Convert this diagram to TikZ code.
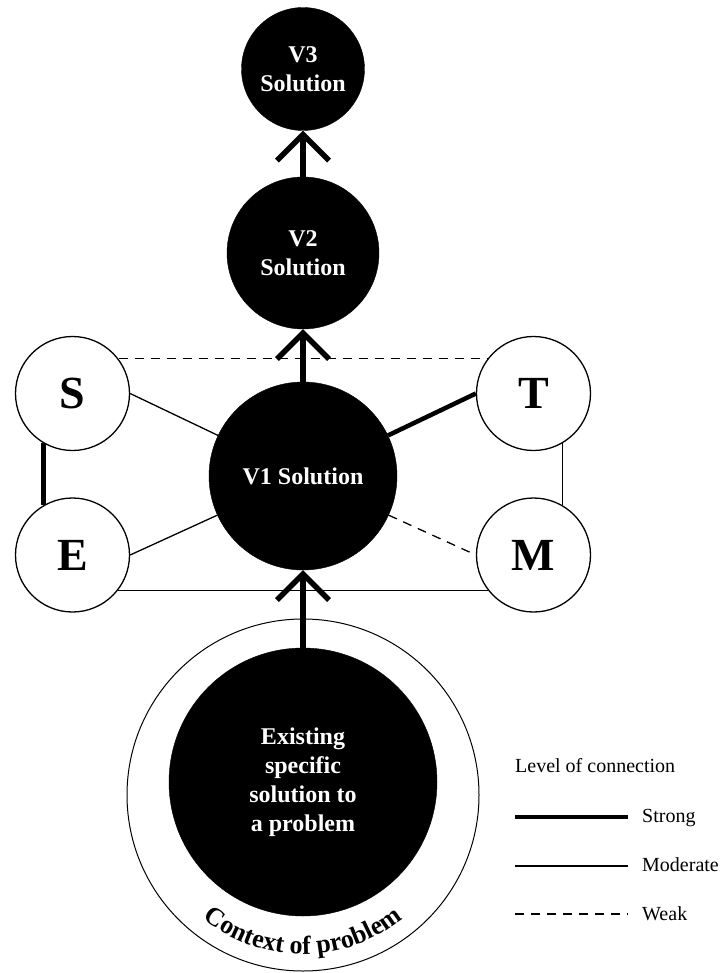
\documentclass[tikz,border=0pt]{standalone}
\usepackage{fontspec}
\setmainfont{Liberation Serif}
\usetikzlibrary{arrows.meta,decorations.text}

\begin{document}
\begin{tikzpicture}[x=1pt,y=1pt,
        solid node/.style={circle,fill=black,draw=black,text=white,inner sep=0pt,align=center,font=\fontsize{24}{29}\selectfont\bfseries},
        area node/.style={circle,draw=black,line width=1.3pt,fill=white,inner sep=0pt,minimum size=114pt,font=\fontsize{46}{46}\selectfont\bfseries},
        legend text/.style={anchor=base west,inner sep=0pt,font=\fontsize{20}{24}\selectfont},
        strong/.style={line width=4.5pt},
        moderate/.style={line width=1.3pt},
        weak/.style={line width=1.3pt,dash pattern=on 9pt off 7pt},
        step arrow/.style={line width=5.5pt,-{Straight Barb[length=26pt,width=52pt]}}]
                    \useasboundingbox (0,0) rectangle (722,-973);
                    \node[solid node,minimum size=123pt] (v3) at (303,-69) {V3\\Solution};
                    \node[solid node,minimum size=152pt] (v2) at (303,-253) {V2\\Solution};
                    \node[solid node,minimum size=188pt] (v1) at (303,-476) {V1 Solution};
                    \node[area node] (s) at (72.5,-393.5) {S};
                    \node[area node] (t) at (533.5,-393.5) {T};
                    \node[area node] (e) at (72.5,-555) {E};
                    \node[area node] (m) at (533.5,-555) {M};
                    \node[circle,draw=black,line width=1pt,inner sep=0pt,minimum size=352pt] (ctx) at (303,-795) {};
                    \node[solid node,minimum size=268pt] (prob) at (303,-782) {Existing\\specific\\solution to\\a problem};
                    \draw[weak] (s.37) -- (t.143);
                    \draw[moderate] (e.-38) -- (m.-142);
                    \draw[strong] (s.240) -- (e.120);
                    \draw[moderate] (t.300) -- (m.60);
                    \draw[moderate] (s.east) -- (v1);
                    \draw[moderate] (e.east) -- (v1);
                    \draw[strong] (t.west) -- (v1);
                    \draw[weak] (v1) -- (m.west);
                    \draw[step arrow] (prob) -- (v1);
                    \draw[step arrow] (v1) -- (v2);
                    \draw[step arrow] (v2) -- (v3);
                    \path[decorate,decoration={text along path,text align=center,
                        text={|\fontsize{26}{26}\selectfont\bfseries|Context of problem}}]
                        (ctx.center) ++(220:159pt) arc[start angle=220,end angle=320,radius=159pt];
                    \node[legend text] (lgtitle) at (515,-772) {Level of connection};
                    \node[legend text] (lgstrong) at (642,-822) {Strong};
                    \node[legend text] (lgmod) at (642,-871) {Moderate};
                    \node[legend text] (lgweak) at (642,-920) {Weak};
                    \draw[strong] (515,-817) -- (628,-817);
                    \draw[moderate] (515,-866) -- (628,-866);
                    \draw[weak] (515,-914) -- (628,-914);
                \end{tikzpicture}
\end{document}
